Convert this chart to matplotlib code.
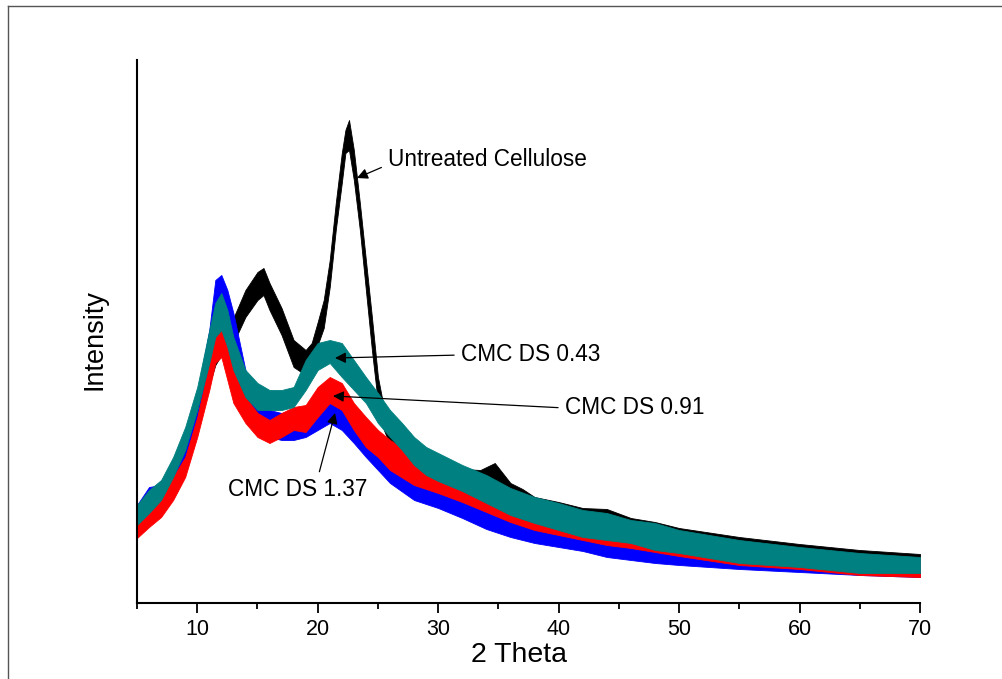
import matplotlib
matplotlib.use("Agg")
import matplotlib.pyplot as plt
from matplotlib.lines import Line2D
from matplotlib.ticker import MultipleLocator

plt.rcParams['font.family'] = ['Liberation Sans', 'DejaVu Sans']

# XRD patterns: 2-theta positions with the lower and
# upper edge of each noisy trace (arbitrary intensity units)
tt_teal = [5, 6, 7, 8, 9, 10, 11, 11.5, 12, 12.5, 13, 14, 15, 16, 17, 18, 19, 20,
           21, 22, 23, 24, 25, 26, 27, 28, 29, 30, 32, 34, 36, 38, 40, 42, 44,
           46, 48, 50, 55, 60, 65, 70]
hi_teal = [98, 113, 123, 146, 176, 216, 273, 300, 310, 293, 266, 233, 220, 213,
           213, 216, 243, 260, 263, 260, 243, 226, 210, 193, 180, 166, 156, 150,
           138, 128, 115, 106, 100, 93, 90, 83, 80, 73, 63, 56, 50, 46]
lo_teal = [78, 90, 103, 126, 153, 193, 240, 266, 273, 256, 233, 206, 193, 193,
           193, 196, 213, 233, 240, 226, 213, 200, 180, 166, 153, 138, 128, 122,
           112, 100, 88, 80, 73, 66, 63, 60, 53, 50, 40, 36, 30, 30]

tt_red = [5, 6, 7, 8, 9, 10, 11, 11.5, 12, 12.5, 13, 14, 15, 16, 17, 18, 19, 20,
          21, 22, 23, 24, 25, 26, 28, 30, 32, 34, 36, 38, 40, 42, 44, 46, 48,
          50, 55, 60, 65, 70]
hi_red = [83, 100, 106, 126, 146, 186, 240, 270, 273, 260, 233, 206, 190, 183,
          190, 196, 198, 216, 226, 220, 200, 186, 173, 163, 148, 138, 128, 118,
          106, 100, 93, 88, 83, 78, 75, 70, 61, 55, 49, 45]
lo_red = [65, 76, 86, 103, 126, 166, 213, 240, 246, 223, 200, 180, 166, 160,
          166, 173, 171, 186, 200, 193, 173, 156, 146, 133, 118, 110, 101, 91,
          81, 73, 68, 63, 58, 55, 51, 47, 38, 34, 28, 26]

tt_blue = [5, 6, 7, 8, 9, 10, 11, 11.5, 12, 12.5, 13, 14, 15, 16, 17, 18, 19, 20,
           21, 22, 23, 24, 25, 26, 28, 30, 32, 34, 36, 38, 40, 42, 44, 46, 48,
           50, 55, 60, 65, 70]
hi_blue = [98, 116, 118, 138, 168, 208, 273, 323, 328, 313, 290, 233, 200, 193,
           190, 193, 193, 203, 206, 203, 186, 173, 160, 153, 133, 124, 112, 102,
           94, 86, 80, 76, 70, 66, 63, 60, 53, 46, 43, 40]
lo_blue = [68, 90, 93, 113, 138, 178, 233, 293, 283, 273, 250, 193, 173, 166,
           163, 163, 166, 173, 180, 173, 160, 146, 133, 120, 103, 95, 85, 74,
           66, 60, 56, 52, 46, 43, 40, 38, 34, 31, 28, 26]

tt_black = [5, 6, 7, 8, 9, 10, 11, 11.5, 12, 12.5, 13, 14, 15, 15.5, 16, 17, 18,
            19, 19.5, 20, 20.5, 21, 21.5, 22, 22.3, 22.6, 23, 23.5, 24, 24.5,
            25, 25.5, 26, 28, 30, 32, 33.5, 34.7, 36, 37, 38, 40, 42, 44, 46,
            48, 50, 55, 60, 65, 70]
hi_black = [91, 106, 115, 133, 158, 198, 243, 261, 268, 273, 285, 313, 331, 335,
            320, 295, 263, 253, 260, 281, 303, 343, 400, 450, 473, 483, 453,
            400, 343, 286, 226, 195, 183, 160, 146, 134, 133, 140, 120, 114, 106,
            101, 95, 94, 85, 81, 75, 66, 59, 53, 49]
lo_black = [73, 86, 95, 110, 135, 170, 218, 238, 248, 253, 260, 286, 303, 308,
            293, 268, 236, 228, 238, 258, 275, 316, 373, 420, 450, 453, 423,
            373, 313, 253, 200, 173, 158, 135, 122, 112, 110, 115, 103, 98, 83,
            76, 70, 68, 63, 58, 53, 43, 38, 33, 31]

fig = plt.figure(figsize=(10.03, 6.79), dpi=100)
ax = fig.add_axes([137 / 1003, 1 - 603 / 679, 783 / 1003, 543 / 679])

# drawing order: cellulose at the back, DS 0.43 on top
traces = [
    (tt_black, lo_black, hi_black, "black"),
    (tt_blue, lo_blue, hi_blue, "#0000FF"),
    (tt_red, lo_red, hi_red, "#FF0000"),
    (tt_teal, lo_teal, hi_teal, "#008080"),
]
for x, lo, hi, c in traces:
    ax.fill_between(x, lo, hi, color=c, linewidth=0.6, edgecolor=c)

ax.set_xlim(5, 70)
ax.set_ylim(0, 543)

ax.spines['top'].set_visible(False)
ax.spines['right'].set_visible(False)
ax.spines['left'].set_linewidth(1.5)
ax.spines['bottom'].set_linewidth(1.5)
ax.set_yticks([])
ax.xaxis.set_major_locator(MultipleLocator(10))
ax.xaxis.set_minor_locator(MultipleLocator(5))
ax.tick_params(axis='x', which='major', direction='out', length=7.5, width=1.3,
               labelsize=15.5, pad=4)
ax.tick_params(axis='x', which='minor', direction='out', length=4, width=1.3)

fig.text(519 / 1003, 1 - 655 / 679, "2 Theta", fontsize=20.5, ha='center', va='center')
fig.text(95 / 1003, 1 - 340 / 679, "Intensity", fontsize=19.5, rotation=90,
         ha='center', va='center')

arrow = dict(arrowstyle='-|>', color='black', lw=0.9, mutation_scale=16,
             shrinkA=3, shrinkB=0)
ax.annotate("Untreated Cellulose", xy=(23.26, 425), xytext=(25.84, 443),
            fontsize=16.3, ha='left', va='center',
            arrowprops=dict(arrow, relpos=(0, 0.3)))
ax.annotate("CMC DS 0.43", xy=(21.44, 245), xytext=(31.9, 248),
            fontsize=16.3, ha='left', va='center',
            arrowprops=dict(arrow, relpos=(0, 0.5)))
ax.annotate("CMC DS 0.91", xy=(21.27, 207), xytext=(40.53, 195),
            fontsize=16.3, ha='left', va='center',
            arrowprops=dict(arrow, relpos=(0, 0.5)))
ax.annotate("CMC DS 1.37", xy=(21.44, 190), xytext=(18.37, 113),
            fontsize=16.3, ha='center', va='center',
            arrowprops=dict(arrow, relpos=(0.64, 1.0)))

# thin frame around the picture (top and left edges only are visible)
fig.add_artist(Line2D([8 / 1003, 1], [1 - 6 / 679, 1 - 6 / 679],
                      transform=fig.transFigure, color='#555555', lw=1))
fig.add_artist(Line2D([8 / 1003, 8 / 1003], [0, 1 - 6 / 679],
                      transform=fig.transFigure, color='#555555', lw=1))

fig.savefig("out.png", dpi=100)
